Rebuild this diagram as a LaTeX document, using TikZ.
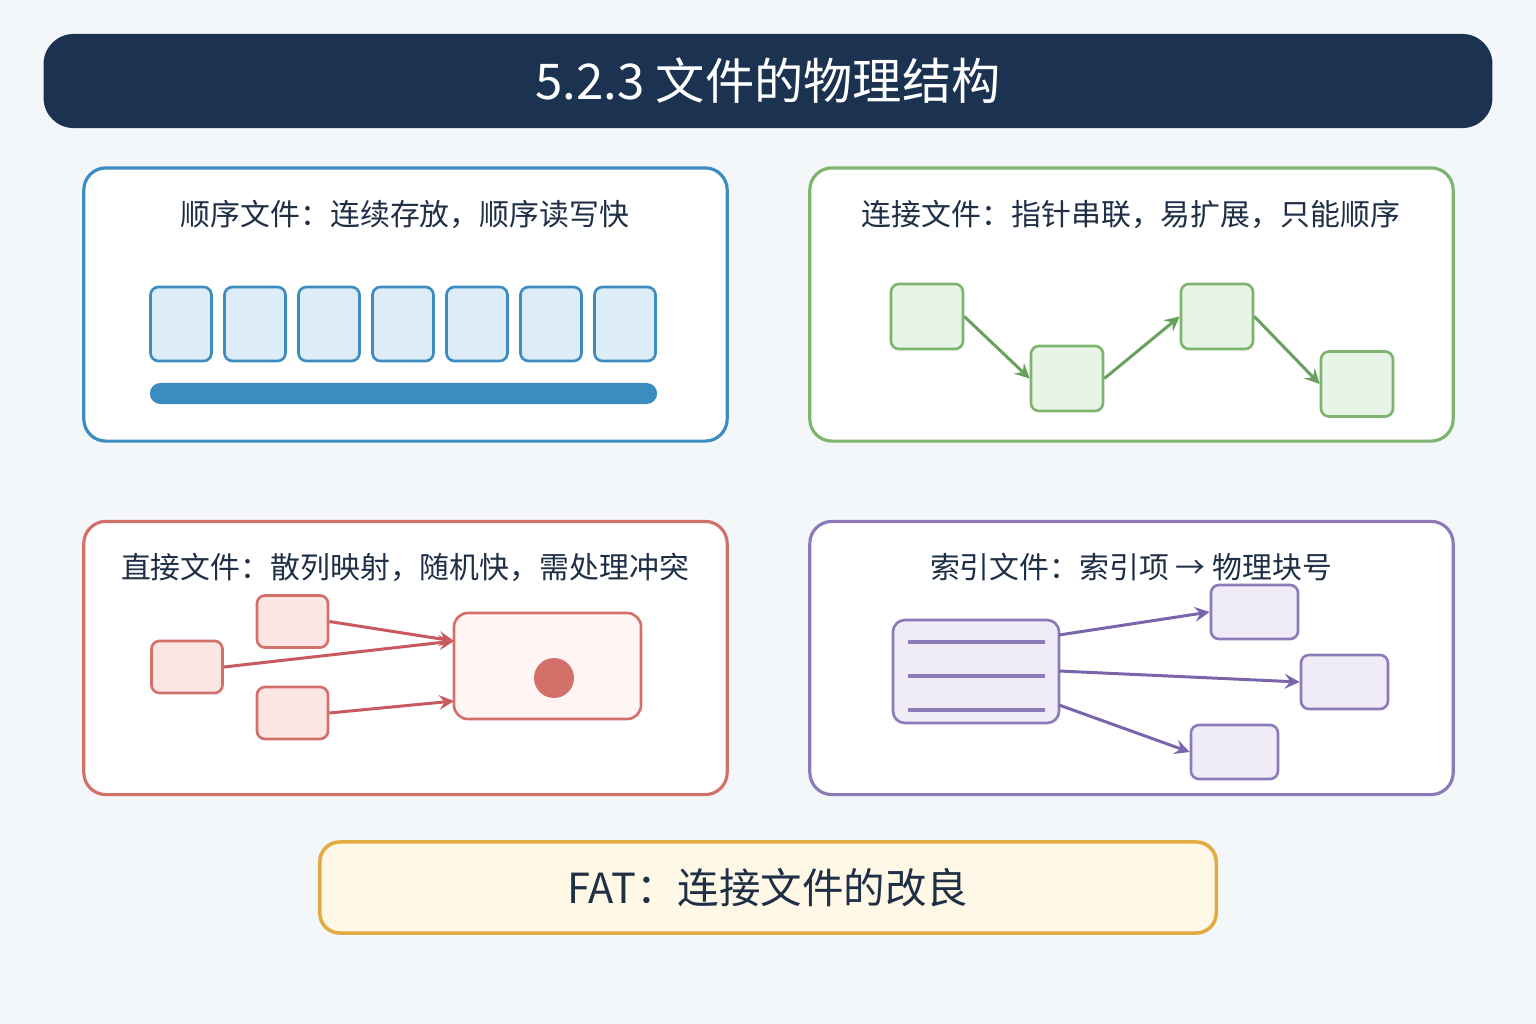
\documentclass[tikz,border=0pt]{standalone}
\usepackage{fontspec}
\setmainfont{Noto Sans CJK SC}
\tikzset{>=stealth}
\definecolor{bg}{HTML}{F4F7FA}
\definecolor{navy}{HTML}{1B3350}
\definecolor{ink}{HTML}{1E2F46}
\definecolor{seqc}{HTML}{3C8CC0}
\definecolor{seqf}{HTML}{DDEDF8}
\definecolor{lnkc}{HTML}{7DB56E}
\definecolor{lnkf}{HTML}{E8F4E6}
\definecolor{lnka}{HTML}{68A05E}
\definecolor{dirc}{HTML}{D4706A}
\definecolor{dirf}{HTML}{FCE6E4}
\definecolor{dira}{HTML}{C8595F}
\definecolor{idxc}{HTML}{8D7BB9}
\definecolor{idxf}{HTML}{EFECF8}
\definecolor{idxa}{HTML}{7A64AA}
\definecolor{fatc}{HTML}{E1AB42}
\definecolor{fatf}{HTML}{FFF8E6}
\tikzset{
  panel/.style={draw=#1, line width=0.9pt, fill=white, rounded corners=0.22cm,
    minimum width=6.43cm, minimum height=2.73cm, inner sep=0pt},
  ptitle/.style={text=ink, font=\fontsize{8.5pt}{10pt}\selectfont, inner sep=0pt},
  blk/.style={draw=#1, line width=0.75pt, rounded corners=0.08cm, inner sep=0pt},
  lnk/.style={->, draw=#1, line width=0.85pt}
}

\begin{document}
\begin{tikzpicture}[x=0.01cm, y=-0.01cm]
\useasboundingbox[fill=bg] (0,0) rectangle (1536,1024);
% title
\node[fill=navy, rounded corners=0.3cm, minimum width=14.48cm, minimum height=0.94cm,
  text=white, font=\fontsize{14pt}{16pt}\selectfont] (head) at (768,81) {5.2.3 文件的物理结构};

% sequential file
\node[panel=seqc] (seq) at (405.5,304.5) {};
\node[ptitle] (seqt) at (405,214) {顺序文件：连续存放，顺序读写快};
\foreach \i in {0,...,6}
  \node[blk=seqc, fill=seqf, minimum width=0.61cm, minimum height=0.74cm] (s\i) at (181+74*\i,324) {};
\node[fill=seqc, rounded corners=0.105cm, minimum width=5.07cm, minimum height=0.21cm,
  inner sep=0pt] (bar) at (403.5,393.5) {};

% linked file
\node[panel=lnkc] (lnk) at (1131.5,304.5) {};
\node[ptitle] (lnkt) at (1131,214) {连接文件：指针串联，易扩展，只能顺序};
\tikzset{gblk/.style={blk=lnkc, fill=lnkf, minimum width=0.72cm, minimum height=0.65cm}}
\node[gblk] (g1) at (927,316.5) {};
\node[gblk] (g2) at (1067,378.5) {};
\node[gblk] (g3) at (1217,316.5) {};
\node[gblk] (g4) at (1357,384) {};
\draw[lnk=lnka] (g1.east) -- (g2.west);
\draw[lnk=lnka] (g2.east) -- (g3.west);
\draw[lnk=lnka] (g3.east) -- (g4.west);

% direct file
\node[panel=dirc] (dir) at (405.5,658) {};
\node[ptitle] (dirt) at (405,567) {直接文件：散列映射，随机快，需处理冲突};
\tikzset{rblk/.style={blk=dirc, fill=dirf, minimum width=0.71cm, minimum height=0.52cm}}
\node[rblk] (r1) at (292.5,621.5) {};
\node[rblk] (r2) at (187,667) {};
\node[rblk] (r3) at (292.5,713) {};
\node[blk=dirc, fill=dirf!40, rounded corners=0.14cm, minimum width=1.87cm, minimum height=1.06cm] (slot) at (547.5,666) {};
\fill[dirc] (554,678) circle (20);
\coordinate (hitA) at (454,641);
\coordinate (hitB) at (454,701);
\draw[lnk=dira] (r1.east) -- (hitA);
\draw[lnk=dira] (r2.east) -- (hitA);
\draw[lnk=dira] (r3.east) -- (hitB);

% indexed file
\node[panel=idxc] (idx) at (1131.5,658) {};
\node[ptitle] (idxt) at (1131,567) {索引文件：索引项 → 物理块号};
\node[blk=idxc, fill=idxf, rounded corners=0.12cm, minimum width=1.66cm, minimum height=1.03cm] (tab) at (976,671.5) {};
\foreach \y in {642,676,710}
  \draw[idxc, line width=1pt] (908,\y) -- (1045,\y);
\tikzset{pblk/.style={blk=idxc, fill=idxf, minimum width=0.87cm, minimum height=0.54cm}}
\node[pblk] (b1) at (1254.5,612) {};
\node[pblk] (b2) at (1344.5,682) {};
\node[pblk] (b3) at (1234.5,752) {};
\coordinate (ia) at (1059,635);
\coordinate (ib) at (1059,671);
\coordinate (ic) at (1059,705);
\draw[lnk=idxa] (ia) -- (b1.west);
\draw[lnk=idxa] (ib) -- (b2.west);
\draw[lnk=idxa] (ic) -- (b3.west);

% FAT
\node[draw=fatc, fill=fatf, line width=1pt, rounded corners=0.2cm, minimum width=8.96cm,
  minimum height=0.91cm, text=ink, font=\fontsize{11.8pt}{14pt}\selectfont] (fat) at (768,887.5) {FAT：连接文件的改良};
\end{tikzpicture}
\end{document}
